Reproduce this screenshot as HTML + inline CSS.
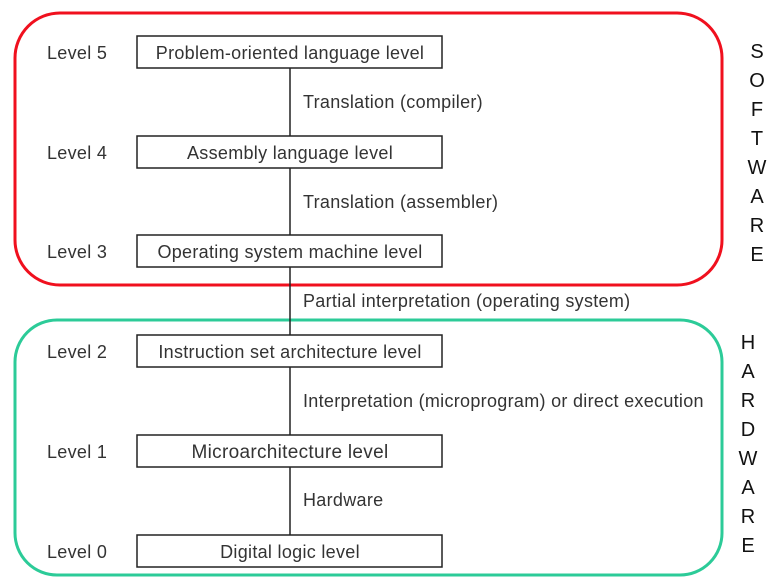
<!DOCTYPE html>
<html><head><style>
body{margin:0;background:#fff;}
svg text{font-family:"Liberation Sans",sans-serif;}
</style></head><body>
<svg width="782" height="580" xmlns="http://www.w3.org/2000/svg">
<rect x="15" y="13" width="707" height="272" rx="45" fill="none" stroke="#f0101e" stroke-width="3"/>
<rect x="15" y="320" width="707" height="255" rx="42" fill="none" stroke="#2ccb98" stroke-width="3"/>
<line x1="290" y1="68" x2="290" y2="535" stroke="#222" stroke-width="1.5"/>
<g fill="#fff" stroke="#222" stroke-width="1.5">
<rect x="137" y="36" width="305" height="32"/>
<rect x="137" y="136" width="305" height="32"/>
<rect x="137" y="235" width="305" height="32"/>
<rect x="137" y="335" width="305" height="32"/>
<rect x="137" y="435" width="305" height="32"/>
<rect x="137" y="535" width="305" height="32"/>
</g>
<g font-size="18" letter-spacing="0.3" fill="#333" text-anchor="middle">
<text x="290" y="59">Problem-oriented language level</text>
<text x="290" y="159">Assembly language level</text>
<text x="290" y="258">Operating system machine level</text>
<text x="290" y="358">Instruction set architecture level</text>
<text x="290" y="458" font-size="19">Microarchitecture level</text>
<text x="290" y="558">Digital logic level</text>
</g>
<g font-size="18" letter-spacing="0.3" fill="#333">
<text x="47" y="59">Level 5</text>
<text x="47" y="159">Level 4</text>
<text x="47" y="258">Level 3</text>
<text x="47" y="358">Level 2</text>
<text x="47" y="458">Level 1</text>
<text x="47" y="558">Level 0</text>
<text x="303" y="108">Translation (compiler)</text>
<text x="303" y="208">Translation (assembler)</text>
<text x="303" y="307">Partial interpretation (operating system)</text>
<text x="303" y="407">Interpretation (microprogram) or direct execution</text>
<text x="303" y="506">Hardware</text>
</g>
<g font-size="20" fill="#111" text-anchor="middle">
<text x="757" y="58">S</text><text x="757" y="87">O</text><text x="757" y="116">F</text><text x="757" y="145">T</text>
<text x="757" y="174">W</text><text x="757" y="203">A</text><text x="757" y="232">R</text><text x="757" y="261">E</text>
<text x="748" y="349">H</text><text x="748" y="378">A</text><text x="748" y="407">R</text><text x="748" y="436">D</text>
<text x="748" y="465">W</text><text x="748" y="494">A</text><text x="748" y="523">R</text><text x="748" y="552">E</text>
</g>
</svg>
</body></html>
